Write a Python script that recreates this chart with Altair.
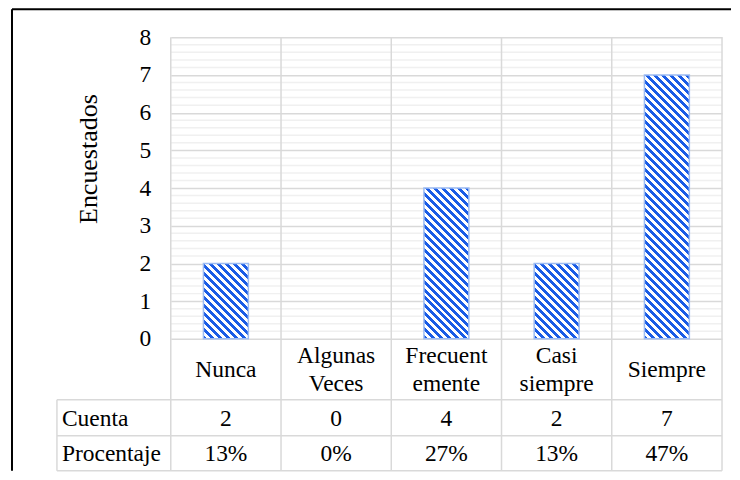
import math
import altair as alt
import pandas as pd

# ---------------- data ----------------
CATEGORIES = ["Nunca", "Algunas Veces", "Frecuentemente", "Casi siempre", "Siempre"]
LABELS = ["Nunca", "Algunas\nVeces", "Frecuent\nemente", "Casi\nsiempre", "Siempre"]
COUNTS = [2, 0, 4, 2, 7]
PERCENTS = ["13%", "0%", "27%", "13%", "47%"]
Y_TICKS = [0, 1, 2, 3, 4, 5, 6, 7, 8]
ROW_HEADERS = ["Cuenta", "Procentaje"]
Y_TITLE = "Encuestados"

# ---------------- layout / style ----------------
W, H = 552, 302
YMAX = 8
N = len(CATEGORIES)
PXU = H / YMAX          # pixels per unit on y
STEP = W / N            # pixels per category column
FONT = "Liberation Serif, Times New Roman, serif"
FS = 23.5
LH = 28
GRID = "#d9d9d9"
MINOR = "#f0f0f0"
BLUE = "#1a5ce6"
EDGE = "#9dbcf3"
BAR_W = 45
HDR_COL_PX = 114        # width of the row-header column of the data table
ROW_BOTTOMS_PX = [61, 97, 132]   # table row bottoms, px below the zero line
ROW_CENTERS_PX = [31, 80, 115]   # text centres of label / count / percent rows


def ypx(px):
    return -px / PXU


XS = alt.Scale(domain=[0, N], nice=False, zero=False, padding=0)
YS = alt.Scale(domain=[0, YMAX], nice=False, zero=False, padding=0)
X_HDR = -HDR_COL_PX / STEP

df = pd.DataFrame({"cat": CATEGORIES, "label": LABELS, "count": COUNTS, "pct": PERCENTS})
df["pos"] = df.index + 0.5
df["count_txt"] = df["count"].astype(str)
df["nlines"] = df["label"].str.count("\n") + 1

one = pd.DataFrame({"a": [0]})
minor_df = pd.DataFrame({"v": [k / 5 for k in range(1, YMAX * 5) if k % 5]})
bounds_df = pd.DataFrame({"b": list(range(N + 1))})
tlines_df = pd.DataFrame({"y": [ypx(p) for p in ROW_BOTTOMS_PX]})

Y_AXIS = alt.Axis(
    values=Y_TICKS, grid=True, gridColor=GRID, gridWidth=1.5,
    domain=False, ticks=False, tickSize=0,
    labelFont=FONT, labelFontSize=FS, labelColor="black", labelPadding=20,
    title=Y_TITLE, titleFont=FONT, titleFontSize=26, titleFontWeight="normal",
    titleColor="black", titleX=-74, titleY=121.5, titleBaseline="alphabetic",
)


def Yf(field):
    return alt.Y(field, scale=YS, axis=Y_AXIS)


def Yd(v):
    return alt.YDatum(v, scale=YS, axis=Y_AXIS)


def Xf(field):
    return alt.X(field, scale=XS, axis=None)


def Xd(v):
    return alt.XDatum(v, scale=XS, axis=None)


layers = []

# minor grid
layers.append(
    alt.Chart(minor_df).mark_rule(color=MINOR, strokeWidth=1.5).encode(
        y=Yf("v:Q"), x=Xd(0), x2=alt.X2Datum(N),
    )
)

# vertical column borders
layers.append(
    alt.Chart(bounds_df).mark_rule(color=GRID, strokeWidth=1.5).encode(
        x=Xf("b:Q"), y=Yd(YMAX), y2=alt.Y2Datum(ypx(ROW_BOTTOMS_PX[-1])),
    )
)

# table horizontal lines
layers.append(
    alt.Chart(tlines_df).mark_rule(color=GRID, strokeWidth=1.5).encode(
        y=Yf("y:Q"), x=Xd(X_HDR), x2=alt.X2Datum(N),
    )
)

# row header column left border
layers.append(
    alt.Chart(one).mark_rule(color=GRID, strokeWidth=1.5).encode(
        x=Xd(X_HDR), y=Yd(ypx(ROW_BOTTOMS_PX[0])), y2=alt.Y2Datum(ypx(ROW_BOTTOMS_PX[-1])),
    )
)


def hatch(h, w=BAR_W, period=8.0, frac=0.5):
    s = (w + h) / (w * w + h * h)
    n = (w + h) / period
    stops = []
    for k in range(int(math.ceil(n))):
        a = min(k / n, 1.0)
        b = min((k + frac) / n, 1.0)
        c = min((k + 1) / n, 1.0)
        stops += [
            {"offset": a, "color": BLUE},
            {"offset": b, "color": BLUE},
            {"offset": b, "color": "white"},
            {"offset": c, "color": "white"},
        ]
    return {"gradient": "linear", "x1": 0, "y1": 1, "x2": w * s, "y2": 1 - h * s, "stops": stops}


# bars (one layer per bar so each gets its own hatch gradient)
for cat, cnt in zip(CATEGORIES, COUNTS):
    if cnt <= 0:
        continue
    layers.append(
        alt.Chart(df[df["cat"] == cat]).mark_bar(
            size=BAR_W, orient="vertical", fill=hatch(cnt * PXU),
            stroke=EDGE, strokeWidth=1.5,
        ).encode(
            x=Xf("pos:Q"), y=Yf("count:Q"), y2=alt.Y2Datum(0),
        )
    )

text_style = dict(font=FONT, fontSize=FS, color="black", baseline="middle")

# category labels (multi-line blocks centred in the row)
for nl in sorted(df["nlines"].unique()):
    layers.append(
        alt.Chart(df[df["nlines"] == nl]).mark_text(
            align="center", lineBreak="\n", lineHeight=LH, **text_style
        ).encode(
            x=Xf("pos:Q"),
            y=Yd(ypx(ROW_CENTERS_PX[0] - (nl - 1) * LH / 2)),
            text="label:N",
        )
    )
# counts
layers.append(
    alt.Chart(df).mark_text(align="center", **text_style).encode(
        x=Xf("pos:Q"), y=Yd(ypx(ROW_CENTERS_PX[1])), text="count_txt:N",
    )
)
# percents
layers.append(
    alt.Chart(df).mark_text(align="center", **text_style).encode(
        x=Xf("pos:Q"), y=Yd(ypx(ROW_CENTERS_PX[2])), text="pct:N",
    )
)
# row headers
for hdr, cpx in zip(ROW_HEADERS, ROW_CENTERS_PX[1:]):
    layers.append(
        alt.Chart(one).mark_text(align="left", dx=5, text=hdr, **text_style).encode(
            x=Xd(X_HDR), y=Yd(ypx(cpx)),
        )
    )

# outer chart border (left and top edges)
layers.append(
    alt.Chart(one).mark_rule(color="black", strokeWidth=2).encode(
        x=alt.value(-159), y=alt.value(-28), y2=alt.value(434)
    )
)
layers.append(
    alt.Chart(one).mark_rule(color="black", strokeWidth=2).encode(
        y=alt.value(-28), x=alt.value(-159), x2=alt.value(561)
    )
)

chart = (
    alt.layer(*layers)
    .properties(width=W, height=H, padding={"left": 3, "top": 0, "right": 0, "bottom": 0})
    .configure_view(stroke=None)
)

chart.save("out.html", embed_options={"renderer": "svg", "actions": False})
